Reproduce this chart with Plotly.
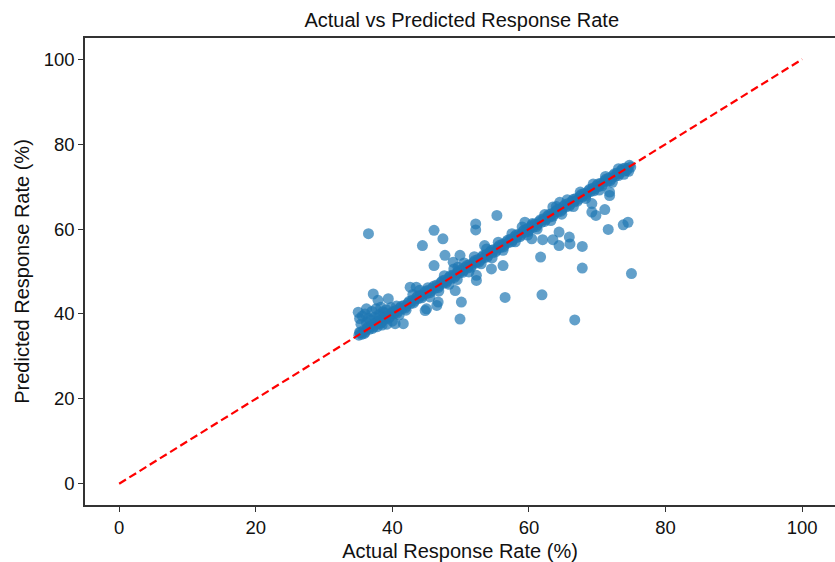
import plotly.graph_objects as go

# Dense band close to the diagonal (actual, predicted)
band_actual = [35.1, 35.3, 35.5, 35.8, 36.0, 36.3, 36.6, 36.9, 37.2, 37.5, 37.8, 38.1, 38.4, 38.7, 39.0, 39.3, 39.6, 39.9,
               40.2, 40.5, 40.8, 41.1, 41.4, 41.7, 42.0, 42.3, 42.6, 42.9, 43.2, 43.5, 43.8, 44.1, 44.4, 44.7, 45.0, 45.3,
               45.6, 45.9, 46.2, 46.5, 46.8, 47.1, 47.4, 47.7, 48.0, 48.3, 48.6, 48.9, 49.2, 49.5, 49.8, 50.1, 50.4, 50.7,
               51.0, 51.3, 51.6, 51.9, 52.2, 52.5, 52.8, 53.1, 53.4, 53.7, 54.0, 54.3, 54.6, 54.9, 55.2, 55.5, 55.8, 56.1,
               56.4, 56.7, 57.0, 57.3, 57.6, 57.9, 58.2, 58.5, 58.8, 59.1, 59.4, 59.7, 60.0, 60.3, 60.6, 60.9, 61.2, 61.5,
               61.8, 62.1, 62.4, 62.7, 63.0, 63.3, 63.6, 63.9, 64.2, 64.5, 64.8, 65.1, 65.4, 65.7, 66.0, 66.3, 66.6, 66.9,
               67.2, 67.5, 67.8, 68.1, 68.4, 68.7, 69.0, 69.3, 69.6, 69.9, 70.2, 70.5, 70.8, 71.1, 71.4, 71.7, 72.0, 72.3,
               72.6, 72.9, 73.2, 73.5, 73.8, 74.1, 74.4, 74.7, 74.9]
band_predicted = [35.0, 35.6, 35.2, 36.1, 35.7, 36.6, 36.4, 37.2, 36.9, 37.8, 37.6, 38.4, 38.1, 39.0, 38.8, 39.6, 39.4, 40.2,
                  40.0, 40.8, 40.6, 41.4, 41.2, 42.0, 41.8, 42.6, 42.4, 43.2, 43.0, 43.8, 43.6, 44.4, 44.2, 45.0, 44.8, 45.6,
                  45.4, 46.2, 46.0, 46.8, 46.6, 47.4, 47.2, 48.0, 47.8, 48.6, 48.4, 49.2, 49.0, 49.8, 49.6, 50.4, 50.2, 51.0,
                  50.8, 51.6, 51.4, 52.2, 52.0, 52.8, 52.6, 53.4, 53.2, 54.0, 53.8, 54.6, 54.4, 55.2, 55.0, 55.8, 55.6, 56.4,
                  56.2, 57.0, 56.8, 57.6, 57.4, 58.2, 58.0, 58.8, 58.6, 59.4, 59.2, 60.0, 59.8, 60.6, 60.4, 61.2, 61.0, 61.8,
                  61.6, 62.4, 62.2, 63.0, 62.8, 63.6, 63.4, 64.2, 64.0, 64.8, 64.6, 65.4, 65.2, 66.0, 65.8, 66.6, 66.4, 67.2,
                  67.0, 67.8, 67.6, 68.4, 68.2, 69.0, 68.8, 69.6, 69.4, 70.2, 70.0, 70.8, 70.6, 71.4, 71.2, 72.0, 71.8, 72.6,
                  72.4, 73.2, 73.0, 73.8, 73.6, 74.4, 74.2, 75.0, 74.6]

# Second pass of the band (fills it in)
band2_actual = [35.2, 35.9, 36.5, 37.1, 37.7, 38.3, 38.9, 39.5, 40.1, 40.7, 41.3, 41.9, 42.5, 43.1, 43.7, 44.3, 44.9, 45.5,
                46.1, 46.7, 47.3, 47.9, 48.5, 49.1, 49.7, 50.3, 50.9, 51.5, 52.1, 52.7, 53.3, 53.9, 54.5, 55.1, 55.7, 56.3,
                56.9, 57.5, 58.1, 58.7, 59.3, 59.9, 60.5, 61.1, 61.7, 62.3, 62.9, 63.5, 64.1, 64.7, 65.3, 65.9, 66.5, 67.1,
                67.7, 68.3, 68.9, 69.5, 70.1, 70.7, 71.3, 71.9, 72.5, 73.1, 73.7, 74.3]
band2_predicted = [35.7, 35.4, 37.0, 36.6, 38.2, 37.8, 39.4, 39.0, 40.6, 40.2, 41.8, 41.4, 43.0, 42.6, 44.2, 43.8, 45.4, 45.0,
                   46.6, 46.2, 47.8, 47.4, 49.0, 48.6, 50.2, 49.8, 51.4, 51.0, 52.6, 52.2, 53.8, 53.4, 55.0, 54.6, 56.2, 55.8,
                   57.4, 57.0, 58.6, 58.2, 59.8, 59.4, 61.0, 60.6, 62.2, 61.8, 63.4, 63.0, 64.6, 64.2, 65.8, 65.4, 67.0, 66.6,
                   68.2, 67.8, 69.4, 69.0, 70.6, 70.2, 71.8, 71.4, 73.0, 72.6, 74.2, 73.8]

# Points slightly off the diagonal
near_actual = [36.2, 36.8, 37.4, 38.0, 38.6, 39.1, 39.8, 40.6, 35.4, 35.2, 35.6, 36.0, 36.5, 37.0, 37.6, 38.3, 38.9, 40.0,
               39.2, 38.5, 37.8, 41.0, 42.0, 43.0, 44.0, 45.2, 45.5, 46.8, 47.6, 48.3, 49.0, 49.5, 50.5, 51.2, 52.0, 53.0,
               53.8, 54.6, 55.5, 56.2, 57.5, 58.0, 59.0, 59.8, 60.5, 61.2, 62.3, 63.2, 64.0, 64.8, 65.6, 66.5, 67.5, 68.3,
               69.4, 70.3, 71.2, 72.2, 73.1, 73.9, 74.6]
near_predicted = [38.0, 38.6, 39.2, 39.8, 40.5, 41.0, 41.5, 41.9, 37.6, 38.9, 39.5, 40.0, 39.0, 40.6, 41.2, 41.6, 40.2, 38.3,
                  37.6, 37.4, 37.0, 39.8, 40.9, 44.6, 45.6, 46.2, 44.0, 45.4, 49.0, 47.0, 50.6, 48.1, 52.0, 49.9, 53.5, 51.8,
                  55.3, 53.2, 56.9, 55.0, 58.9, 57.0, 60.5, 58.6, 61.3, 60.0, 63.4, 62.0, 65.3, 63.5, 66.9, 65.3, 68.7, 67.2,
                  70.6, 69.2, 72.4, 71.0, 74.2, 72.9, 73.6]

# Larger deviations
out_actual = [36.5, 46.1, 47.4, 44.4, 47.7, 46.1, 49.9, 48.9, 49.6, 42.6, 43.5, 46.7, 46.5, 44.8, 41.6, 39.4, 37.2, 36.2,
              35.0, 37.9, 40.4, 50.1, 49.9, 38.2, 55.3, 52.2, 52.2, 53.5, 56.2, 54.5, 52.3, 52.3, 49.2, 56.5, 45.0, 61.7,
              62.0, 63.5, 64.4, 64.4, 65.9, 66.0, 67.8, 67.8, 61.9, 66.7, 75.0, 71.6, 73.8, 74.5, 71.1, 69.2, 69.2, 69.8,
              71.8, 71.8, 64.5, 63.5, 59.4, 60.4]
out_predicted = [58.9, 59.7, 57.7, 56.1, 53.8, 51.4, 53.8, 52.2, 51.0, 46.3, 46.3, 42.8, 42.0, 40.8, 37.7, 43.6, 44.7, 41.2,
                 40.4, 43.2, 37.7, 42.8, 38.8, 39.2, 63.2, 61.2, 59.8, 56.1, 51.4, 50.6, 47.9, 49.1, 45.5, 43.9, 41.2, 53.4,
                 57.5, 57.5, 59.3, 56.1, 58.1, 56.5, 55.9, 50.8, 44.5, 38.6, 49.5, 59.9, 61.0, 61.6, 64.6, 66.0, 64.0, 63.2,
                 68.7, 67.9, 66.3, 65.2, 61.6, 57.7]

actual = band_actual + band2_actual + near_actual + out_actual
predicted = band_predicted + band2_predicted + near_predicted + out_predicted

ref_line = [0, 100]

FONT = "Liberation Sans, Arial, Helvetica, sans-serif"

fig = go.Figure()
fig.add_trace(go.Scatter(
    x=actual, y=predicted, mode="markers",
    marker=dict(color="rgba(31,119,180,0.7)", size=11, line=dict(width=0)),
    showlegend=False, hoverinfo="x+y"))
fig.add_trace(go.Scatter(
    x=ref_line, y=ref_line, mode="lines",
    line=dict(color="#ff0000", width=2.2, dash="8px,4px"),
    showlegend=False, hoverinfo="skip"))

axis_common = dict(
    showgrid=False, zeroline=False, showline=True, linecolor="#333333", linewidth=1.5,
    ticks="outside", ticklen=5, tickwidth=1.3, tickcolor="#333333",
    tickfont=dict(family=FONT, size=18.5, color="#111111"),
    tickvals=[0, 20, 40, 60, 80, 100],
)

fig.update_layout(
    width=835, height=562,
    margin=dict(l=85, r=0, t=38, b=57),
    paper_bgcolor="white", plot_bgcolor="white",
    title=dict(text="Actual vs Predicted Response Rate", x=0.553, xanchor="center", y=0.965, yanchor="middle",
               font=dict(family=FONT, size=20, color="#111111")),
    xaxis=dict(axis_common, range=[-5, 104.8], mirror=True,
               title=dict(text="Actual Response Rate (%)", font=dict(family=FONT, size=20, color="#111111"), standoff=7)),
    yaxis=dict(axis_common, range=[-5, 105], mirror=False,
               title=dict(text="Predicted Response Rate (%)", font=dict(family=FONT, size=20, color="#111111"), standoff=9)),
)

fig.write_html("out.html", config={"displayModeBar": False},
               post_script="document.body.style.margin='0';document.body.style.overflow='hidden';")
